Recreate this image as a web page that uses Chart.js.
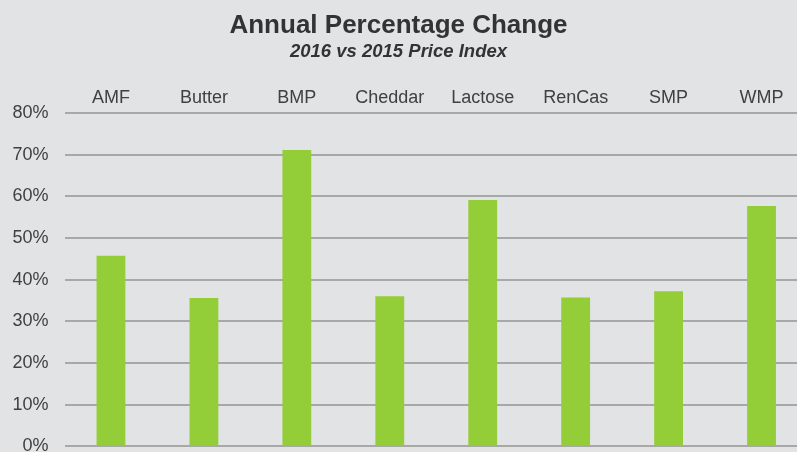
<!DOCTYPE html>
<html>
<head>
<meta charset="utf-8">
<script src="https://cdn.jsdelivr.net/npm/chart.js@4/dist/chart.umd.min.js"></script>
<style>
  html, body { margin: 0; padding: 0; background: #e2e3e5; overflow: hidden; }
  /* plot runs slightly past the right edge, so the canvas is wider and shifted */
  #wrap { width: 819px; height: 473px; position: relative; margin-left: -11px; }
</style>
</head>
<body>
<div id="wrap"><canvas id="priceChart"></canvas></div>
<script>
// Categories and annual % change (2016 vs 2015)
const products = ['AMF', 'Butter', 'BMP', 'Cheddar', 'Lactose', 'RenCas', 'SMP', 'WMP'];
const changePct = [45.7, 35.6, 71.1, 36.0, 59.1, 35.7, 37.2, 57.7];
const yTicks = [0, 10, 20, 30, 40, 50, 60, 70, 80];

const fontFamily = "'Liberation Sans', Arial, sans-serif";

document.addEventListener('DOMContentLoaded', () => {
    const ctx = document.getElementById('priceChart').getContext('2d');

    new Chart(ctx, {
        type: 'bar',
        data: {
            labels: products,
            datasets: [{
                data: changePct,
                backgroundColor: '#93cd37',
                borderWidth: 0,
                barPercentage: 0.31,
                categoryPercentage: 1
            }]
        },
        options: {
            responsive: true,
            maintainAspectRatio: false,
            animation: false,
            layout: {
                autoPadding: false,
                padding: { left: 0, right: 0, top: 0, bottom: 6 }
            },
            plugins: {
                legend: { display: false },
                tooltip: { enabled: false },
                title: {
                    display: true,
                    text: 'Annual Percentage Change',
                    color: '#333333',
                    font: { family: fontFamily, size: 26, weight: 'bold' },
                    padding: { top: 10.5, bottom: 0 }
                },
                subtitle: {
                    display: true,
                    text: '2016 vs 2015 Price Index',
                    color: '#333333',
                    font: { family: fontFamily, size: 18.5, weight: 'bold', style: 'italic' },
                    padding: { top: -0.5, bottom: 0 }
                }
            },
            scales: {
                x: {
                    position: 'top',
                    grid: { display: false, drawTicks: false },
                    border: { display: false },
                    ticks: {
                        color: '#404040',
                        padding: 4,
                        font: { family: fontFamily, size: 18 }
                    },
                    afterFit: (scale) => { scale.height = 49.6; }
                },
                y: {
                    min: 0,
                    max: 80,
                    afterBuildTicks: (scale) => {
                        scale.ticks = yTicks.map(v => ({ value: v }));
                    },
                    grid: {
                        color: '#a8a8a8',
                        lineWidth: 2,
                        drawTicks: false
                    },
                    border: { display: false },
                    ticks: {
                        color: '#404040',
                        padding: 16,
                        font: { family: fontFamily, size: 18 },
                        callback: (v) => v + '%'
                    },
                    afterFit: (scale) => { scale.width = 75.5; }
                }
            }
        }
    });
});
</script>
</body>
</html>
